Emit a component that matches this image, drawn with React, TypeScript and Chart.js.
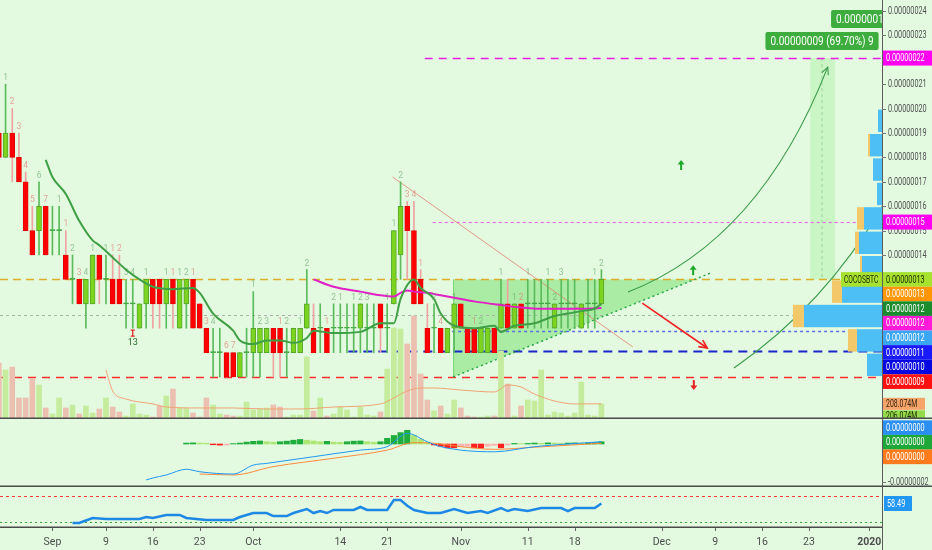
import React, { useEffect, useRef } from "react";
import { Chart, registerables } from "chart.js";

Chart.register(...registerables);

// Day index: 0 = 1 Sep 2019. Prices in units of 1e-8 BTC. Volumes in millions.
const X_MIN = -7.83;
const X_MAX = 123.91;
const xTickDays = [0, 8, 15, 22, 30, 43, 50, 61, 71, 78, 91, 99, 106, 113, 122];
const xTickLabels = ["Sep", "9", "16", "23", "Oct", "14", "21", "Nov", "11", "18", "Dec", "9", "16", "23", "2020"];
const priceTicks = [8, 9, 10, 11, 12, 13, 14, 15, 16, 17, 18, 19, 20, 21, 22, 23, 24];
const macdTicks = [-2];

const FIRST_DAY = -8;
const opens = [
  19, 18, 19, 18, 17, 15, 15, 16, 15, 15,
  14, 13, 13, 12, 12, 14, 13, 13, 13, 12,
  12, 11, 12, 13, 13, 12, 13, 11, 12, 13,
  12, 11, 10, 10, 10, 10, 9, 10, 10, 10,
  10, 11, 11, 10, 10, 10, 11, 11, 11, 11,
  11, 11, 11, 11, 11, 11, 11, 12, 11, 12,
  14, 16, 15, 13, 11, 11, 11, 10, 11, 12,
  11, 11, 10, 10, 11, 11, 12, 11, 12, 12,
  12, 12, 12, 11, 12, 12, 12, 11, 12, 12, 12,
];
const highs = [
  19.5, 21, 20, 19, 17.4, 16, 17, 16, 16, 16,
  15, 14, 13, 13, 14, 14, 14, 14, 14, 13,
  13, 12, 13, 13, 13, 13, 13, 13, 13, 13,
  12, 11, 11, 11, 10, 10, 10, 11, 12.5, 11,
  11, 11, 11, 11, 11, 11, 13.4, 12, 12, 11,
  12, 12, 12, 12, 12, 12, 12, 12, 12, 15,
  17, 16.2, 16.2, 13.4, 12, 12, 11, 11, 12, 12,
  11, 11, 11, 11, 11, 13, 13, 12, 12, 13,
  13, 13, 13, 12, 13, 13, 13, 12, 13, 13, 13.4,
];
const lows = [
  18, 18, 17, 17, 15, 14, 14, 14, 14, 14,
  13, 12, 12, 11, 12, 12, 12, 12, 12, 11,
  11, 11, 11, 11, 11, 11, 11, 11, 11, 11,
  11, 10, 9, 9, 9, 9, 9, 9, 9, 9,
  10, 9, 9, 9, 10, 10, 11, 10, 10, 10,
  10, 10, 10, 10, 10, 10, 10, 10, 10, 12,
  13, 13, 12, 12, 10, 10, 10, 10, 10, 11,
  10, 10, 10, 10, 10, 11, 11, 11, 11, 11,
  11, 11, 11, 11, 11, 11, 11, 11, 11, 11, 12,
];
const closes = [
  18, 19, 18, 17, 15, 14, 16, 14, 15, 15,
  13, 13, 12, 13, 14, 13, 13, 12, 12, 12,
  12, 12, 13, 12, 12, 13, 12, 13, 13, 11,
  11, 10, 10, 10, 9, 9, 10, 10, 11, 11,
  11, 10, 10, 10, 11, 11, 12, 10, 11, 10,
  11, 11, 11, 11, 12, 11, 11, 11, 11, 15,
  16, 15, 12, 12, 10, 11, 10, 11, 12, 11,
  10, 10, 11, 11, 10, 12, 11, 12, 11, 12,
  12, 12, 12, 12, 12, 12, 12, 12, 12, 12, 13,
];
const volumes = [
  767, 671, 712, 288, 288, 548, 466, 151, 69, 288,
  151, 192, 69, 178, 82, 137, 288, 164, 96, 41,
  206, 69, 55, 27, 178, 315, 411, 151, 151, 82,
  27, 288, 192, 69, 55, 41, 41, 233, 123, 137,
  151, 192, 164, 27, 55, 55, 849, 110, 288, 41,
  69, 164, 123, 27, 164, 55, 41, 96, 685, 1247,
  1233, 1028, 1411, 617, 260, 110, 178, 69, 260, 151,
  41, 27, 27, 41, 41, 932, 480, 41, 178, 260,
  247, 671, 55, 96, 82, 41, 82, 507, 55, 41, 206.074,
];

// Volume moving average (read at sampled days)
const volMaDays = [8, 9, 11, 15, 17, 22, 27, 32, 37, 42, 49, 51, 53, 55, 57, 61, 66, 68, 70, 72, 75, 78, 82];
const volMaVals = [671, 384, 274, 206, 164, 151, 151, 137, 137, 164, 206, 288, 384, 425, 425, 397, 370, 466, 438, 342, 247, 206, 208.074];

// Price EMA (green)
const emaDays = [-1, 0, 2, 4, 6, 7, 9, 11, 13, 15, 18, 21, 22, 24, 27, 28, 30, 32, 34, 36, 38, 39, 42, 46, 49, 51, 52, 54, 55, 57, 58, 60, 63, 66, 67, 69, 72, 75, 77, 79, 81, 82];
const emaVals = [17.9, 17.2, 16.5, 15.4, 14.6, 14.4, 13.9, 13.4, 13.0, 12.7, 12.6, 12.65, 12.45, 11.6, 10.9, 10.5, 10.35, 10.5, 10.5, 10.4, 10.6, 10.9, 10.8, 10.85, 11.2, 11.2, 12.2, 13.0, 12.65, 12.2, 11.6, 11.1, 11.0, 11.1, 10.85, 11.1, 11.2, 11.5, 11.6, 11.7, 11.8, 12.0];

// Price MA (magenta)
const smaDays = [39, 42, 46, 49, 51, 52, 53, 54, 56, 58, 60, 63, 67, 70, 73, 77, 80, 82];
const smaVals = [13.0, 12.7, 12.5, 12.35, 12.3, 12.45, 12.55, 12.5, 12.45, 12.35, 12.25, 12.1, 11.95, 11.85, 11.8, 11.8, 11.8, 11.83];

// MACD
const macdDays = [14, 15, 17, 20, 22, 27, 30, 32, 39, 46, 50, 53, 56, 58, 66, 72, 82];
const macdVals = [-1.89, -1.79, -1.63, -1.33, -1.46, -1.58, -1.11, -1.02, -0.67, -0.32, -0.14, 0.56, 0.12, -0.14, -0.41, -0.14, 0.12];
const signalDays = [22, 27, 33, 42, 50, 54, 57, 61, 66, 72, 82];
const signalVals = [-1.58, -1.63, -1.19, -0.75, -0.32, 0.07, 0.04, -0.14, -0.28, -0.17, 0.04];
const HIST_FIRST_DAY = 20;
const macdHist = [
  0.05, 0.06, 0.05, 0.04, -0.04, -0.06, -0.05, 0.02, 0.05, 0.1,
  0.14, 0.16, 0.12, 0.1, 0.12, 0.15, 0.2, 0.24, 0.2, 0.16,
  0.12, 0.14, 0.1, 0.09, 0.12, 0.15, 0.16, 0.12, 0.1, 0.12,
  0.3, 0.45, 0.6, 0.72, 0.45, 0.25, 0.1, -0.05, -0.12, -0.2,
  -0.2, -0.15, -0.12, -0.2, -0.22, -0.12, -0.08, -0.2, -0.05, 0.03,
  0.02, 0.03, 0.05, 0.04, 0.06, 0.05, 0.04, 0.05, 0.06, 0.05,
  0.06, 0.08, 0.12,
];

// RSI
const rsiDays = [3, 4, 6, 8, 13, 14, 15, 17, 19, 20, 23, 27, 28, 30, 32, 33, 35, 36, 38, 39, 40, 41, 42, 45, 46, 47, 50, 51, 52, 53, 54, 56, 58, 60, 62, 64, 65, 67, 68, 69, 71, 73, 76, 77, 78, 81, 82];
const rsiVals = [28.5, 28.5, 36.2, 34.6, 34.6, 37.7, 36.2, 40.8, 40.8, 36.2, 33.1, 33.1, 37.7, 43.8, 43.8, 39.2, 39.2, 43.8, 50, 43.8, 46.9, 43.8, 48.5, 48.5, 53.1, 48.5, 48.5, 63.8, 63.8, 55, 48.5, 43.8, 43.8, 50, 43.8, 46.9, 43.8, 51.5, 46.9, 50, 46.9, 51.5, 51.5, 46.9, 51.5, 51.5, 58.49];
const rsiBands = [70, 30];

// TD sequential counts
const tdDays = [-7, -6, -5, -4, -3, -2, -1, 1, 2, 3, 4, 5, 6, 8, 9, 10, 11, 12, 14, 17, 18, 19, 20, 21, 23, 24, 26, 27, 30, 31, 32, 34, 35, 37, 38, 41, 42, 43, 45, 46, 47, 50, 51, 52, 53, 54, 55, 57, 58, 60, 63, 64, 67, 69, 70, 71, 74, 75, 76, 81, 82];
const tdNums = [1, 2, 3, 4, 5, 6, 7, 1, 1, 2, 3, 4, 1, 1, 1, 2, 3, 4, 1, 1, 1, 1, 2, 1, 3, 4, 6, 7, 1, 2, 3, 1, 2, 1, 2, 1, 2, 1, 1, 2, 3, 1, 1, 2, 3, 4, 1, 2, 4, 1, 1, 2, 1, 1, 2, 1, 1, 2, 3, 1, 2];

// Horizontal drawn levels
const levelValues = [13.0, 11.54, 9.0, 10.07, 10.88, 22.07, 15.35];
const levelStartDays = [X_MIN, X_MIN, X_MIN, 44.2, 59.7, 55.6, 56.8];
const levelStyles = [
  { color: "#dcae2a", dash: [8, 5], width: 1.6 },
  { color: "#a9b3a9", dash: [3, 3], width: 1 },
  { color: "#ff2d2d", dash: [8, 6], width: 1.6 },
  { color: "#1b27c9", dash: [9, 6], width: 2 },
  { color: "#5a6fe3", dash: [3, 3], width: 1.5 },
  { color: "#e61ee0", dash: [8, 6], width: 1.6 },
  { color: "#e46ae4", dash: [3, 3], width: 1.2 },
];

// Drawings (day, price)
const triangleBase = [59.85, 9.0];
const triangleApex = [98.2, 13.25];
const triangleTop = 13.0;
const trendLine = [[50.8, 17.2], [86.7, 10.23]];
const redArrow = [[88.1, 12.03], [97.8, 10.19]];
const curve1 = [[85.97, 12.48], [105.7, 14.61], [115.8, 21.7]];
const curve2 = [[101.8, 9.37], [115.4, 11.95], [124.05, 16.05]];
const upArrows = [[93.9, 17.69], [95.7, 13.38]];
const downArrows = [[95.8, 8.67]];
const bandDays = [113.2, 116.9];
const bandMid = 114.95;
const bandPrices = [13.0, 22.07];
const targetBox = { day: 114.95, price: 22.77, text: "0.00000009 (69.70%) 9" };
const topBox = { day: 116.3, price: 23.67, text: "0.00000018" };
const markerDay = 12;
const markerPrice = 10.8;

// Volume profile per price level [level, level+1]
const vpLevels = [9, 10, 11, 12, 13, 14, 15, 16, 17, 18, 19];
const vpUp = [15, 25, 78, 40, 20, 23, 18, 5, 9, 12, 4];
const vpDown = [0, 9, 11, 10, 2, 4, 7, 0, 0, 2, 0];

// Axis tags
const lastClose = closes[closes.length - 1];
const priceTagsTop = [
  { v: 22.07, bg: "#ff00f2", fg: "#ffffff" },
  { v: 15.35, bg: "#ff00f2", fg: "#ffffff" },
];
const priceTagsMain = [
  { v: lastClose, bg: "#a6e22e", fg: "#1d2a05" },
  { v: 13.0, bg: "#ff9500", fg: "#ffffff" },
  { v: emaVals[emaVals.length - 1] - 0.1, bg: "#1b8c2e", fg: "#ffffff" },
  { v: smaVals[smaVals.length - 1], bg: "#ff1ad9", fg: "#ffffff" },
  { v: 11.54, bg: "#3aa6f4", fg: "#ffffff" },
  { v: 10.88, bg: "#1a1aff", fg: "#ffffff" },
  { v: 10.07, bg: "#0606e0", fg: "#ffffff" },
  { v: 9.0, bg: "#ff1010", fg: "#ffffff" },
];
const volTags = [
  { v: volMaVals[volMaVals.length - 1], bg: "#f6a46a", fg: "#3a2410" },
  { v: volumes[volumes.length - 1], bg: "#95da4a", fg: "#1d2a05" },
];

const VOL_MAX = 5740;
const PRICE_MIN = 7.28;
const PRICE_MAX = 24.45;
const MACD_MIN = -2.263;
const MACD_MAX = 1.316;
const RSI_MIN = 22.31;
const RSI_MAX = 83.85;

const BG = "#e3fae1";
const AXIS_W = 50;
const FONT = "Roboto, 'DejaVu Sans', sans-serif";
const AX_SX = 0.66;

function fmtPrice(v: number) {
  return (v * 1e-8).toFixed(8);
}

function narrowText(ctx: any, s: string, x: number, y: number, color: string, size: number, align = "left", sx = AX_SX, weight = "normal") {
  ctx.save();
  ctx.translate(x, y);
  ctx.scale(sx, 1);
  ctx.font = `${weight} ${size}px ${FONT}`;
  ctx.fillStyle = color;
  ctx.textAlign = align;
  ctx.textBaseline = "middle";
  ctx.fillText(s, 0, 0);
  ctx.restore();
}

function narrowWidth(ctx: any, s: string, size: number, sx = AX_SX) {
  ctx.save();
  ctx.font = `normal ${size}px ${FONT}`;
  const w = ctx.measureText(s).width * sx;
  ctx.restore();
  return w;
}

function stackTags(items: any[], gap: number, mode: string) {
  const sorted = items.slice().sort((a, b) => a.y - b.y);
  if (mode === "top") {
    for (let k = 1; k < sorted.length; k++) {
      if (sorted[k].y < sorted[k - 1].y + gap) sorted[k].y = sorted[k - 1].y + gap;
    }
  } else {
    const mean = sorted.reduce((s, t) => s + t.y, 0) / sorted.length;
    const start = mean - (gap * (sorted.length - 1)) / 2;
    sorted.forEach((t, k) => (t.y = start + gap * k));
  }
  return sorted;
}

function drawTag(ctx: any, x: number, y: number, w: number, h: number, bg: string, fg: string, text: string, size = 11) {
  ctx.fillStyle = bg;
  ctx.fillRect(x, y - h / 2, w, h);
  narrowText(ctx, text, x + 3, y + 0.5, fg, size);
}

function arrowHead(ctx: any, x1: number, y1: number, x2: number, y2: number, size: number) {
  const a = Math.atan2(y2 - y1, x2 - x1);
  ctx.beginPath();
  ctx.moveTo(x2 - size * Math.cos(a - 0.45), y2 - size * Math.sin(a - 0.45));
  ctx.lineTo(x2, y2);
  ctx.lineTo(x2 - size * Math.cos(a + 0.45), y2 - size * Math.sin(a + 0.45));
  ctx.stroke();
}

function drawRightAxisLine(chart: any) {
  const { ctx, chartArea: ca, height } = chart;
  ctx.save();
  ctx.strokeStyle = "#5c5c5c";
  ctx.lineWidth = 1;
  ctx.beginPath();
  ctx.moveTo(ca.right + 0.5, 0);
  ctx.lineTo(ca.right + 0.5, height);
  ctx.stroke();
  ctx.restore();
}

function drawAxisTicks(chart: any, values: number[], Y: (v: number) => number, avoid: number[]) {
  const { ctx, chartArea: ca } = chart;
  values.forEach((v) => {
    const y = Math.round(Y(v)) + 0.5;
    if (avoid.some((a) => Math.abs(a - y) < 7)) return;
    ctx.strokeStyle = "#777";
    ctx.lineWidth = 1;
    ctx.beginPath();
    ctx.moveTo(ca.right, y);
    ctx.lineTo(ca.right + 4, y);
    ctx.stroke();
    narrowText(ctx, fmtPrice(v), ca.right + 6, y, "#505050", 11);
  });
}

function fillBg(chart: any) {
  const { ctx, width, height } = chart;
  ctx.save();
  ctx.fillStyle = BG;
  ctx.fillRect(0, 0, width, height);
  ctx.restore();
}

const candleDays = opens.map((_, k) => FIRST_DAY + k);
const isUp = (k: number) => closes[k] >= opens[k];

const xScale = (display: boolean) => ({
  type: "linear",
  min: X_MIN,
  max: X_MAX,
  offset: false,
  display,
  grid: { display: false, drawTicks: false },
  border: { display: false },
});

const yRight = (min: number, max: number, extra: any = {}) => ({
  type: "linear",
  position: "right",
  min,
  max,
  grid: { display: false, drawTicks: false },
  border: { display: false },
  ticks: { display: false },
  afterFit: (s: any) => {
    s.width = AXIS_W;
  },
  ...extra,
});

const basePlugins = {
  legend: { display: false },
  tooltip: { enabled: false },
  title: { display: false },
};

const mainPlugin = {
  id: "mainDecor",
  beforeDraw(chart: any) {
    fillBg(chart);
  },
  beforeDatasetsDraw(chart: any) {
    const { ctx, chartArea: ca, scales } = chart;
    const X = (d: number) => scales.x.getPixelForValue(d);
    const Y = (v: number) => scales.y.getPixelForValue(v);
    ctx.save();
    ctx.beginPath();
    ctx.rect(ca.left, ca.top, ca.width, ca.height);
    ctx.clip();

    // long-position band
    ctx.fillStyle = "rgba(170, 240, 165, 0.45)";
    ctx.fillRect(X(bandDays[0]), Y(bandPrices[1]), X(bandDays[1]) - X(bandDays[0]), Y(bandPrices[0]) - Y(bandPrices[1]));
    ctx.strokeStyle = "#98d898";
    ctx.setLineDash([3, 3]);
    ctx.lineWidth = 1;
    ctx.beginPath();
    ctx.moveTo(X(bandMid), Y(bandPrices[1]));
    ctx.lineTo(X(bandMid), Y(bandPrices[0]));
    ctx.stroke();
    ctx.setLineDash([]);

    // triangle
    const [bx, by] = triangleBase;
    const [ax, ay] = triangleApex;
    const tx = bx + ((triangleTop - by) / (ay - by)) * (ax - bx);
    ctx.fillStyle = "rgba(100, 220, 90, 0.45)";
    ctx.beginPath();
    ctx.moveTo(X(bx), Y(triangleTop));
    ctx.lineTo(X(bx), Y(by));
    ctx.lineTo(X(tx), Y(triangleTop));
    ctx.closePath();
    ctx.fill();
    ctx.strokeStyle = "rgba(80, 200, 80, 0.6)";
    ctx.lineWidth = 1;
    ctx.beginPath();
    ctx.moveTo(X(bx) + 0.5, Y(triangleTop));
    ctx.lineTo(X(bx) + 0.5, Y(by));
    ctx.stroke();

    // horizontal levels
    levelValues.forEach((v, k) => {
      const st = levelStyles[k];
      ctx.strokeStyle = st.color;
      ctx.lineWidth = st.width;
      ctx.setLineDash(st.dash);
      ctx.beginPath();
      ctx.moveTo(X(levelStartDays[k]), Math.round(Y(v)) + 0.5);
      ctx.lineTo(ca.right, Math.round(Y(v)) + 0.5);
      ctx.stroke();
    });
    ctx.setLineDash([]);

    // dotted rising support
    ctx.strokeStyle = "#2aa84a";
    ctx.lineWidth = 1.5;
    ctx.setLineDash([2, 3]);
    ctx.beginPath();
    ctx.moveTo(X(bx), Y(by));
    ctx.lineTo(X(ax), Y(ay));
    ctx.stroke();
    ctx.setLineDash([]);

    // falling trend line
    ctx.strokeStyle = "rgba(225, 120, 100, 0.75)";
    ctx.lineWidth = 1;
    ctx.beginPath();
    ctx.moveTo(X(trendLine[0][0]), Y(trendLine[0][1]));
    ctx.lineTo(X(trendLine[1][0]), Y(trendLine[1][1]));
    ctx.stroke();
    ctx.restore();
  },
  afterDatasetsDraw(chart: any) {
    const { ctx, chartArea: ca, scales, width } = chart;
    const X = (d: number) => scales.x.getPixelForValue(d);
    const Y = (v: number) => scales.y.getPixelForValue(v);
    const YV = (v: number) => scales.yVol.getPixelForValue(v);

    ctx.save();
    ctx.beginPath();
    ctx.rect(ca.left, ca.top, ca.width, ca.height);
    ctx.clip();

    // TD counts
    tdDays.forEach((d, k) => {
      const idx = d - FIRST_DAY;
      const col = isUp(idx) ? "rgba(95, 160, 95, 0.6)" : "rgba(225, 120, 110, 0.65)";
      ctx.font = `8.5px ${FONT}`;
      ctx.fillStyle = col;
      ctx.textAlign = "center";
      ctx.textBaseline = "bottom";
      ctx.fillText(String(tdNums[k]), X(d), Y(highs[idx]) - 2);
    });

    // countdown marker
    const mx = X(markerDay);
    const my = Y(markerPrice);
    ctx.strokeStyle = "#e02020";
    ctx.lineWidth = 1.2;
    ctx.beginPath();
    ctx.moveTo(mx, my - 3);
    ctx.lineTo(mx, my + 3);
    ctx.moveTo(mx - 2, my - 3);
    ctx.lineTo(mx + 2, my - 3);
    ctx.moveTo(mx - 2, my + 3);
    ctx.lineTo(mx + 2, my + 3);
    ctx.stroke();
    ctx.font = `9px ${FONT}`;
    ctx.fillStyle = "#2b6a2b";
    ctx.textAlign = "center";
    ctx.textBaseline = "top";
    ctx.fillText("13", mx, my + 5);

    // red projection arrow
    ctx.strokeStyle = "#ef2020";
    ctx.lineWidth = 1.6;
    const r0x = X(redArrow[0][0]), r0y = Y(redArrow[0][1]);
    const r1x = X(redArrow[1][0]), r1y = Y(redArrow[1][1]);
    ctx.beginPath();
    ctx.moveTo(r0x, r0y);
    ctx.lineTo(r1x, r1y);
    ctx.stroke();
    arrowHead(ctx, r0x, r0y, r1x, r1y, 9);

    // green curved projections
    ctx.strokeStyle = "#3a9a48";
    ctx.lineWidth = 1.1;
    [curve1, curve2].forEach((c, k) => {
      const p0x = X(c[0][0]), p0y = Y(c[0][1]);
      const cx = X(c[1][0]), cy = Y(c[1][1]);
      const p2x = X(c[2][0]), p2y = Y(c[2][1]);
      ctx.beginPath();
      ctx.moveTo(p0x, p0y);
      ctx.quadraticCurveTo(cx, cy, p2x, p2y);
      ctx.stroke();
      if (k === 0) arrowHead(ctx, cx, cy, p2x, p2y, 8);
    });

    // small arrows
    const smallArrow = (d: number, p: number, up: boolean) => {
      const x = X(d), y = Y(p);
      const s = up ? -1 : 1;
      ctx.strokeStyle = up ? "#1ea82a" : "#e82020";
      ctx.fillStyle = ctx.strokeStyle;
      ctx.lineWidth = 2;
      ctx.beginPath();
      ctx.moveTo(x, y - s * 5);
      ctx.lineTo(x, y + s * 1);
      ctx.stroke();
      ctx.beginPath();
      ctx.moveTo(x - 3.5, y + s * 0.5);
      ctx.lineTo(x + 3.5, y + s * 0.5);
      ctx.lineTo(x, y + s * 5);
      ctx.closePath();
      ctx.fill();
    };
    upArrows.forEach(([d, p]) => smallArrow(d, p, true));
    downArrows.forEach(([d, p]) => smallArrow(d, p, false));

    // green text boxes
    const greenBox = (cxp: number | null, lxp: number | null, yp: number, text: string) => {
      const w = narrowWidth(ctx, text, 12.5, 0.8) + 10;
      const h = 18;
      const left = lxp !== null ? lxp : (cxp as number) - w / 2;
      ctx.fillStyle = "#3dae3d";
      ctx.beginPath();
      ctx.roundRect(left, yp - h / 2, w, h, 2);
      ctx.fill();
      narrowText(ctx, text, left + 5, yp + 0.5, "#ffffff", 12.5, "left", 0.8);
    };
    greenBox(null, X(topBox.day), Y(topBox.price), topBox.text);
    greenBox(X(targetBox.day), null, Y(targetBox.price), targetBox.text);

    // volume profile
    const maxTotal = Math.max(...vpUp.map((u, k) => u + vpDown[k]));
    const fullW = ca.width * 0.101;
    vpLevels.forEach((lv, k) => {
      const top = Y(lv + 1) + 1;
      const bot = Y(lv) - 1;
      const wu = (vpUp[k] / maxTotal) * fullW;
      const wd = (vpDown[k] / maxTotal) * fullW;
      ctx.fillStyle = "#4dbff5";
      ctx.fillRect(ca.right - wu, top, wu, bot - top);
      ctx.fillStyle = "#f3c869";
      ctx.fillRect(ca.right - wu - wd, top, wd, bot - top);
    });
    ctx.restore();

    // right axis
    drawRightAxisLine(chart);
    ctx.save();
    const mainTags = stackTags(priceTagsMain.map((t) => ({ ...t, y: Y(t.v) })), 14.6, "top");
    const vTags = stackTags(volTags.map((t) => ({ ...t, y: YV(t.v) })), 12.5, "top");
    const avoid = [...mainTags.map((t) => t.y), ...vTags.map((t) => t.y)];
    drawAxisTicks(chart, priceTicks, Y, avoid);
    const tagW = width - ca.right - 1;
    priceTagsTop.forEach((t) => drawTag(ctx, ca.right + 1, Y(t.v), tagW, 15, t.bg, t.fg, fmtPrice(t.v)));
    mainTags.forEach((t, k) => {
      drawTag(ctx, ca.right + 1, t.y, tagW, 14.6, t.bg, t.fg, fmtPrice(t.v));
      if (k === 0) {
        ctx.fillStyle = t.bg;
        ctx.fillRect(ca.right - 41, t.y - 7.3, 41, 14.6);
        narrowText(ctx, "COCOSBTC", ca.right - 38, t.y + 0.5, t.fg, 10.5, "left", 0.64);
      }
    });
    vTags.forEach((t) => drawTag(ctx, ca.right + 1, t.y, 42, 12, t.bg, t.fg, t.v.toFixed(3) + "M", 10.5));

    // pane separator
    ctx.strokeStyle = "#4a4a4a";
    ctx.lineWidth = 1.5;
    ctx.beginPath();
    ctx.moveTo(0, chart.height - 0.75);
    ctx.lineTo(width, chart.height - 0.75);
    ctx.stroke();
    ctx.restore();
  },
};

const macdPlugin = {
  id: "macdDecor",
  beforeDraw(chart: any) {
    fillBg(chart);
  },
  afterDatasetsDraw(chart: any) {
    const { ctx, chartArea: ca, scales, width, height } = chart;
    const Y = (v: number) => scales.y.getPixelForValue(v);
    drawRightAxisLine(chart);
    ctx.save();
    const tags = [
      { v: macdVals[macdVals.length - 1], bg: "#2a8ff0", fg: "#ffffff" },
      { v: macdHist[macdHist.length - 1], bg: "#1ea83a", fg: "#ffffff" },
      { v: signalVals[signalVals.length - 1], bg: "#ff7a1a", fg: "#ffffff" },
    ];
    const st = stackTags(tags.map((t) => ({ ...t, y: Y(t.v) })), 14.6, "center");
    drawAxisTicks(chart, macdTicks, Y, st.map((t) => t.y));
    st.forEach((t) => drawTag(ctx, ca.right + 1, t.y, width - ca.right - 1, 14.6, t.bg, t.fg, fmtPrice(t.v)));
    ctx.strokeStyle = "#4a4a4a";
    ctx.lineWidth = 1.5;
    ctx.beginPath();
    ctx.moveTo(0, height - 0.75);
    ctx.lineTo(width, height - 0.75);
    ctx.stroke();
    ctx.restore();
  },
};

const rsiPlugin = {
  id: "rsiDecor",
  beforeDraw(chart: any) {
    fillBg(chart);
  },
  beforeDatasetsDraw(chart: any) {
    const { ctx, chartArea: ca, scales } = chart;
    const Y = (v: number) => scales.y.getPixelForValue(v);
    ctx.save();
    rsiBands.forEach((b, k) => {
      ctx.strokeStyle = k === 0 ? "#ff3b3b" : "#38a838";
      ctx.setLineDash(k === 0 ? [3, 3] : [2, 3]);
      ctx.lineWidth = 1;
      ctx.beginPath();
      ctx.moveTo(ca.left, Math.round(Y(b)) + 0.5);
      ctx.lineTo(ca.right, Math.round(Y(b)) + 0.5);
      ctx.stroke();
    });
    ctx.restore();
  },
  afterDatasetsDraw(chart: any) {
    const { ctx, chartArea: ca, scales } = chart;
    const Y = (v: number) => scales.y.getPixelForValue(v);
    const X = (d: number) => scales.x.getPixelForValue(d);
    drawRightAxisLine(chart);
    ctx.save();
    const last = rsiVals[rsiVals.length - 1];
    drawTag(ctx, ca.right + 2, Y(last), 28, 15, "#2196f3", "#ffffff", last.toFixed(2));
    ctx.strokeStyle = "#4a4a4a";
    ctx.lineWidth = 1.5;
    ctx.beginPath();
    ctx.moveTo(0, ca.bottom + 0.25);
    ctx.lineTo(ca.right, ca.bottom + 0.25);
    ctx.stroke();
    ctx.strokeStyle = "#666";
    ctx.lineWidth = 1;
    xTickDays.forEach((d) => {
      const x = Math.round(X(d)) + 0.5;
      ctx.beginPath();
      ctx.moveTo(x, ca.bottom + 1);
      ctx.lineTo(x, ca.bottom + 4);
      ctx.stroke();
    });
    ctx.restore();
  },
};

function mainConfig(): any {
  return {
    type: "bar",
    data: {
      datasets: [
        {
          type: "bar",
          label: "Volume",
          data: volumes.map((v, k) => ({ x: candleDays[k], y: v })),
          yAxisID: "yVol",
          backgroundColor: volumes.map((_, k) => (isUp(k) ? "#c4ec9c" : "#ebc0b0")),
          barThickness: 5,
          grouped: false,
          order: 10,
        },
        {
          type: "line",
          label: "Volume MA",
          data: volMaDays.map((d, k) => ({ x: d, y: volMaVals[k] })),
          yAxisID: "yVol",
          borderColor: "#f0a474",
          borderWidth: 1,
          pointRadius: 0,
          cubicInterpolationMode: "monotone",
          order: 9,
        },
        {
          type: "bar",
          label: "Wicks",
          data: lows.map((l, k) => ({ x: candleDays[k], y: [l, highs[k]] })),
          yAxisID: "y",
          backgroundColor: lows.map((_, k) => (isUp(k) ? "#5dbb5d" : "#f0a2a2")),
          barThickness: 1,
          grouped: false,
          order: 6,
        },
        {
          type: "bar",
          label: "Bodies",
          data: opens.map((o, k) => ({ x: candleDays[k], y: [o, closes[k]] })),
          yAxisID: "y",
          backgroundColor: opens.map((o, k) => (closes[k] === o ? "#3ea53e" : isUp(k) ? "#7ed321" : "#ff0000")),
          borderColor: opens.map((o, k) => (closes[k] === o ? "#3ea53e" : isUp(k) ? "#55a82a" : "#e40000")),
          borderWidth: 1,
          borderSkipped: false,
          barThickness: 5,
          minBarLength: 1,
          grouped: false,
          order: 5,
        },
        {
          type: "line",
          label: "MA",
          data: smaDays.map((d, k) => ({ x: d, y: smaVals[k] })),
          yAxisID: "y",
          borderColor: "#e21fc6",
          borderWidth: 2,
          pointRadius: 0,
          cubicInterpolationMode: "monotone",
          order: 3,
        },
        {
          type: "line",
          label: "EMA",
          data: emaDays.map((d, k) => ({ x: d, y: emaVals[k] })),
          yAxisID: "y",
          borderColor: "#3f9f45",
          borderWidth: 2,
          pointRadius: 0,
          cubicInterpolationMode: "monotone",
          order: 2,
        },
      ],
    },
    options: {
      responsive: false,
      animation: false,
      events: [],
      layout: { padding: 0 },
      plugins: basePlugins,
      scales: {
        x: xScale(false),
        y: yRight(PRICE_MIN, PRICE_MAX, {
          afterBuildTicks: (s: any) => {
            s.ticks = priceTicks.map((v) => ({ value: v }));
          },
        }),
        yVol: { type: "linear", display: false, min: 0, max: VOL_MAX },
      },
    },
    plugins: [mainPlugin],
  };
}

function macdConfig(): any {
  const histDays = macdHist.map((_, k) => HIST_FIRST_DAY + k);
  const histColors = macdHist.map((v, k) => {
    const prev = k > 0 ? macdHist[k - 1] : v;
    if (v >= 0) return v >= prev ? "#1fae3c" : "#ade672";
    return v <= prev ? "#ff2020" : "#ffb3b3";
  });
  return {
    type: "bar",
    data: {
      datasets: [
        {
          type: "bar",
          label: "Histogram",
          data: macdHist.map((v, k) => ({ x: histDays[k], y: v })),
          backgroundColor: histColors,
          barThickness: 5.5,
          grouped: false,
          order: 5,
        },
        {
          type: "line",
          label: "Signal",
          data: signalDays.map((d, k) => ({ x: d, y: signalVals[k] })),
          borderColor: "#ff8a3c",
          borderWidth: 1,
          pointRadius: 0,
          cubicInterpolationMode: "monotone",
          order: 3,
        },
        {
          type: "line",
          label: "MACD",
          data: macdDays.map((d, k) => ({ x: d, y: macdVals[k] })),
          borderColor: "#2196f3",
          borderWidth: 1,
          pointRadius: 0,
          cubicInterpolationMode: "monotone",
          order: 2,
        },
      ],
    },
    options: {
      responsive: false,
      animation: false,
      events: [],
      layout: { padding: 0 },
      plugins: basePlugins,
      scales: {
        x: xScale(false),
        y: yRight(MACD_MIN, MACD_MAX),
      },
    },
    plugins: [macdPlugin],
  };
}

function rsiConfig(): any {
  return {
    type: "line",
    data: {
      datasets: [
        {
          label: "RSI",
          data: rsiDays.map((d, k) => ({ x: d, y: rsiVals[k] })),
          borderColor: "#1e88e5",
          borderWidth: 2.5,
          pointRadius: 0,
          tension: 0,
        },
      ],
    },
    options: {
      responsive: false,
      animation: false,
      events: [],
      layout: { padding: 0 },
      plugins: basePlugins,
      scales: {
        x: {
          ...xScale(true),
          position: "bottom",
          afterBuildTicks: (s: any) => {
            s.ticks = xTickDays.map((v) => ({ value: v }));
          },
          afterFit: (s: any) => {
            s.height = 23;
          },
          ticks: {
            autoSkip: false,
            maxRotation: 0,
            padding: 9.5,
            color: "#4d4d4d",
            font: (c: any) => ({
              family: FONT,
              size: 10.5,
              weight: c.index === xTickLabels.length - 1 ? "bold" : "normal",
            }),
            callback: (_v: any, i: number) => xTickLabels[i],
          },
        },
        y: yRight(RSI_MIN, RSI_MAX),
      },
    },
    plugins: [rsiPlugin],
  };
}

export default function App() {
  const mainRef = useRef<HTMLCanvasElement>(null);
  const macdRef = useRef<HTMLCanvasElement>(null);
  const rsiRef = useRef<HTMLCanvasElement>(null);

  useEffect(() => {
    document.body.style.margin = "0";
    const charts = [
      new Chart(mainRef.current as any, mainConfig()),
      new Chart(macdRef.current as any, macdConfig()),
      new Chart(rsiRef.current as any, rsiConfig()),
    ];
    return () => charts.forEach((c) => c.destroy());
  }, []);

  return (
    <div style={{ position: "absolute", left: 0, top: 0, width: 932, height: 550, background: BG }}>
      <canvas ref={mainRef} width={932} height={419} style={{ display: "block" }} />
      <canvas ref={macdRef} width={932} height={68} style={{ display: "block" }} />
      <canvas ref={rsiRef} width={932} height={63} style={{ display: "block" }} />
    </div>
  );
}
